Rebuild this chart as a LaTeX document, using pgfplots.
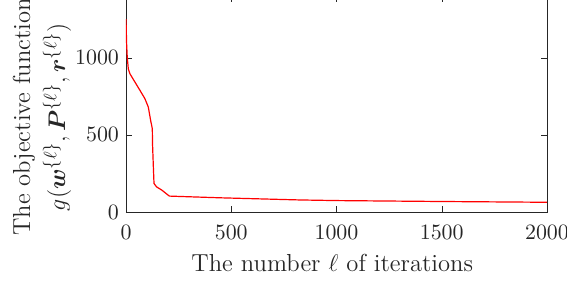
\documentclass[border=0pt]{standalone}
\usepackage{pgfplots}
\pgfplotsset{compat=1.18}
\usepackage{amsmath,bm}
\definecolor{axgray}{rgb}{0.15,0.15,0.15}
\begin{document}
\begin{tikzpicture}
\begin{axis}[
  at={(0,0)}, anchor=south west,
  scale only axis, width=210.5pt, height=108pt,
  xmin=0, xmax=2000, ymin=0, ymax=1400,
  xtick={0,500,1000,1500,2000}, ytick={0,500,1000},
  tick align=inside, major tick length=3pt,
  axis line style={axgray}, tick style={axgray},
  ticklabel style={font=\fontsize{10.5}{12}\selectfont, text=axgray},
  xticklabel style={yshift=-3pt},
  /pgf/number format/1000 sep={},
  xlabel={The number $\ell$ of iterations},
  ylabel={The objective function\\$g(\bm{w}^{\{\ell\}},\bm{P}^{\{\ell\}},\bm{r}^{\{\ell\}})$},
  ylabel style={at={(axis description cs:-0.1995,0.44)}, anchor=center,
    align=center, font=\fontsize{12.3}{17.5}\selectfont, text=axgray},
  xlabel style={at={(axis description cs:0.49,0)}, anchor=base, yshift=-30pt,
    font=\fontsize{12.3}{15}\selectfont, text=axgray},
  scaled ticks=false,
]
\addplot[red, line width=0.6pt] coordinates {
(0,1250) (3,1088) (6,1002) (11,927) (19,895) (43,841) (67,787) (90,734) (106,680) (117,594) (125,540) (126,443) (130,292) (133,185) (145,163) (170,142) (206,103) (447,92) (827,78) (1000,74) (1500,68) (2000,63)
};
\end{axis}
\pgfresetboundingbox
\useasboundingbox (-63pt,-35pt) rectangle (220.5pt,106pt);
\end{tikzpicture}
\end{document}
